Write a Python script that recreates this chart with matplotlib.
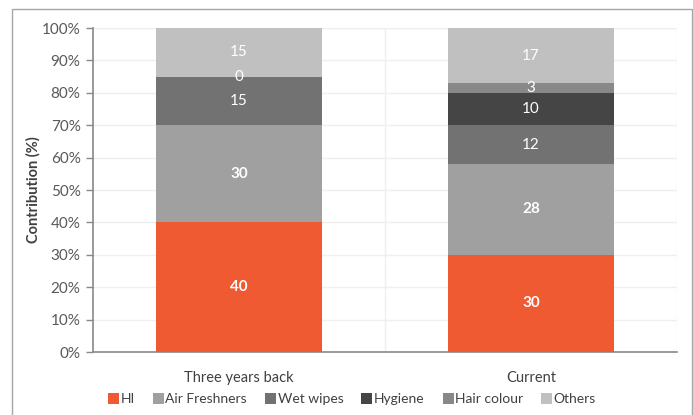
import matplotlib
matplotlib.use("Agg")
import matplotlib.pyplot as plt
from matplotlib.patches import Rectangle, Patch
import numpy as np

plt.rcParams['font.family'] = ['Lato', 'DejaVu Sans']

categories = ["Three years back", "Current"]
series_names = ["HI", "Air Freshners", "Wet wipes", "Hygiene", "Hair colour", "Others"]
hi = [40, 30]
air_fresh = [30, 28]
wet_wipes = [15, 12]
hygiene = [None, 10]
hair_colour = [0, 3]
others = [15, 17]
colors = ["#f05a32", "#a0a0a0", "#727272", "#454545", "#888888", "#c0c0c0"]
bold_series = {"HI", "Air Freshners"}

series = [hi, air_fresh, wet_wipes, hygiene, hair_colour, others]

fig = plt.figure(figsize=(6.93, 4.15), dpi=100)
ax = fig.add_axes([93/693, 1-352/415, (677-93)/693, (352-28)/415])

x = np.arange(len(categories))
bottoms = np.zeros(len(categories))
width = 0.57
for name, vals, col in zip(series_names, series, colors):
    v = np.array([0 if a is None else a for a in vals], dtype=float)
    ax.bar(x, v / 100, width, bottom=bottoms / 100, color=col, zorder=3)
    for i, a in enumerate(vals):
        if a is None:
            continue
        ax.text(x[i], (bottoms[i] + a / 2) / 100, f"{a}", ha="center", va="center",
                color="white", fontsize=11,
                fontweight="bold" if name in bold_series else "normal", zorder=4)
    bottoms += v

ax.set_xlim(-0.5, 1.5)
ax.set_ylim(0, 1.0)
ax.set_yticks(np.arange(0, 1.01, 0.1))
ax.set_yticklabels([f"{int(round(t*100))}%" for t in np.arange(0, 1.01, 0.1)],
                   fontsize=11, color="#595959")
ax.set_xticks(x)
ax.set_xticklabels(categories, fontsize=10.5, color="#404040")
ax.tick_params(axis="x", length=0, pad=14)
ax.tick_params(axis="y", length=5, width=1, color="#898989", pad=4)
ax.yaxis.grid(True, color="#efefef", linewidth=1, zorder=0)
for xv in [0.5, 1.5]:
    ax.axvline(xv, color="#efefef", linewidth=1, zorder=0)
ax.axhline(1.0, color="#efefef", linewidth=1, zorder=0)
for s in ["top", "right"]:
    ax.spines[s].set_visible(False)
for s in ["left", "bottom"]:
    ax.spines[s].set_color("#898989")
    ax.spines[s].set_linewidth(1.2)
ax.set_ylabel("Contribution (%)", fontsize=10.5, fontweight="bold", color="#404040", labelpad=1)

handles = [Patch(facecolor=c, edgecolor="none") for c in colors]
fig.legend(handles, series_names, loc="center", bbox_to_anchor=(352/693, 1-399/415), ncol=6,
           frameon=False, fontsize=10, handlelength=0.8, handleheight=0.8,
           handletextpad=0.1, columnspacing=1.3, labelcolor="#404040")

fig.patches.append(Rectangle((12/693, -0.05), (692-12)/693, 1.05 - 9/415 + 0.0,
                             transform=fig.transFigure, fill=False,
                             edgecolor="#a6a6a6", linewidth=1))

fig.savefig("out.png", dpi=100)
